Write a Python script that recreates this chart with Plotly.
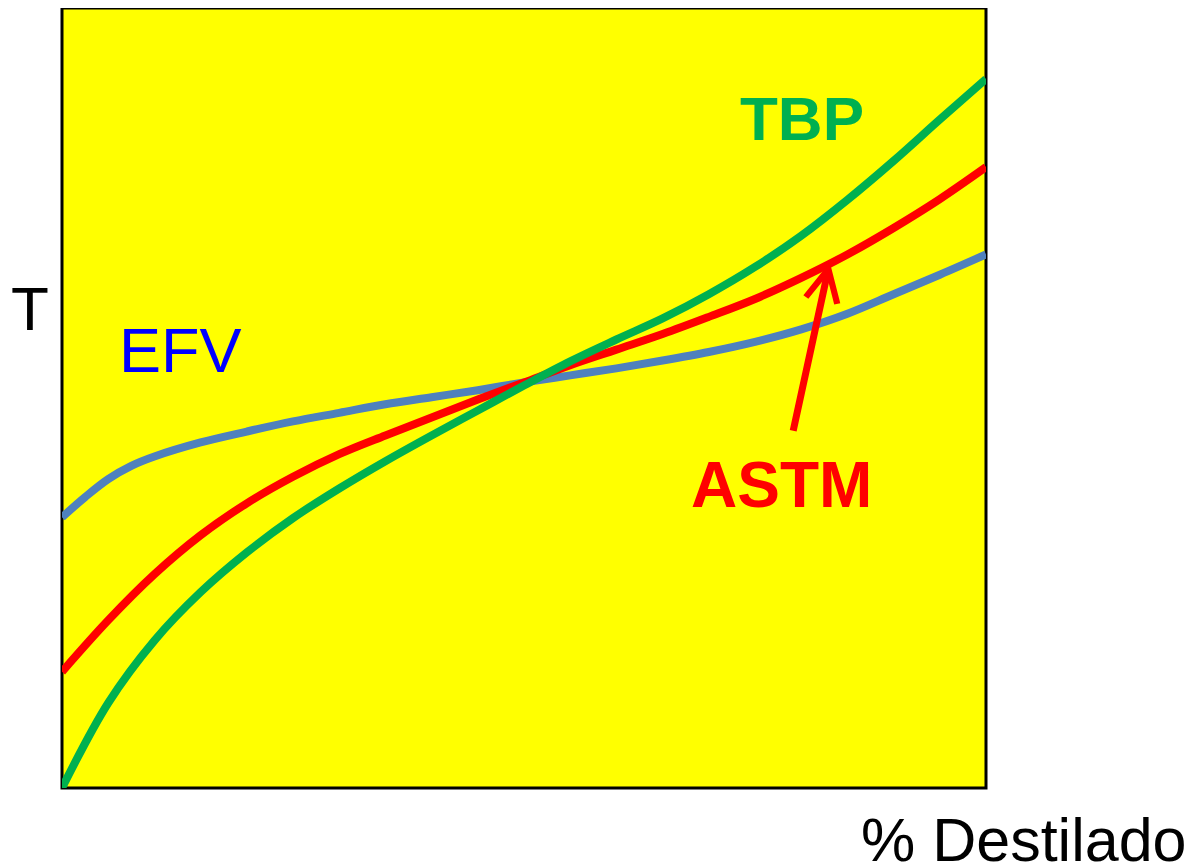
import plotly.graph_objects as go

# % destilado (x) and temperature (relative units, y)
pct_x = [0, 5, 10, 15, 20, 25, 30, 35, 40, 45, 50, 55, 60, 65, 70, 75, 80, 85, 90, 95, 100]

tbp_y = [0.0, 10.9, 18.9, 25.1, 30.2, 34.6, 38.4, 41.9, 45.2, 48.4, 51.6,
         54.7, 57.5, 60.2, 63.3, 66.8, 70.8, 75.4, 80.4, 85.7, 90.9]

astm_y = [14.9, 21.5, 27.4, 32.4, 36.5, 39.9, 42.8, 45.2, 47.5, 49.8, 52.0,
          54.2, 56.2, 58.2, 60.4, 62.7, 65.4, 68.4, 71.8, 75.5, 79.6]

efv_x = [0, 2.5, 5, 7.5, 10, 15, 20, 25, 30, 35, 40, 45, 50, 55, 60, 65, 70, 75, 80, 85, 90, 95, 100]
efv_y = [34.7, 37.3, 39.6, 41.3, 42.5, 44.3, 45.7, 47.0, 48.1, 49.2, 50.1, 51.0,
         52.0, 52.9, 53.8, 54.8, 55.9, 57.2, 58.8, 60.8, 63.3, 65.8, 68.4]

FONT = "Liberation Sans, Arial, sans-serif"

fig = go.Figure()
fig.add_trace(go.Scatter(x=efv_x, y=efv_y, mode="lines",
                         line=dict(color="#4F81BD", width=8, shape="spline", smoothing=1.0), showlegend=False))
fig.add_trace(go.Scatter(x=pct_x, y=astm_y, mode="lines",
                         line=dict(color="#FF0000", width=8, shape="spline", smoothing=1.0), showlegend=False))
fig.add_trace(go.Scatter(x=pct_x, y=tbp_y, mode="lines",
                         line=dict(color="#00B050", width=8, shape="spline", smoothing=1.0), showlegend=False))

annotations = [
    dict(x=80.1, y=85.8, xref="x", yref="y", text="<b>TBP</b>", showarrow=False,
         xanchor="center", yanchor="middle",
         font=dict(family=FONT, size=62, color="#00B050")),
    dict(x=12.8, y=56.1, xref="x", yref="y", text="EFV", showarrow=False,
         xanchor="center", yanchor="middle",
         font=dict(family=FONT, size=63, color="#0000FF")),
    dict(x=77.9, y=38.8, xref="x", yref="y", text="<b>ASTM</b>", showarrow=False,
         xanchor="center", yanchor="middle",
         font=dict(family=FONT, size=64, color="#FF0000")),
    dict(x=83.1, y=67.4, xref="x", yref="y", ax=79.1, ay=45.6, axref="x", ayref="y",
         text="", showarrow=True, arrowhead=5, arrowsize=0.9, arrowwidth=7, arrowcolor="#FF0000"),
    dict(x=-0.0346, y=0.615, xref="paper", yref="paper", text="T", showarrow=False,
         xanchor="center", yanchor="middle",
         font=dict(family=FONT, size=62, color="black")),
    dict(x=1.041, y=-0.0666, xref="paper", yref="paper", text="% Destilado", showarrow=False,
         xanchor="center", yanchor="middle",
         font=dict(family=FONT, size=61, color="black")),
]

fig.update_layout(
    width=1190, height=859,
    margin=dict(l=54, r=212, t=0, b=79, pad=0),
    paper_bgcolor="white", plot_bgcolor="#FFFF00",
    xaxis=dict(range=[0, 100], visible=False, fixedrange=True),
    yaxis=dict(range=[0, 100], visible=False, fixedrange=True),
    annotations=annotations,
    shapes=[dict(type="rect", xref="paper", yref="paper", x0=0, y0=0, x1=1, y1=1,
                 line=dict(color="black", width=3), layer="below")],
)

fig.write_html("out.html")
